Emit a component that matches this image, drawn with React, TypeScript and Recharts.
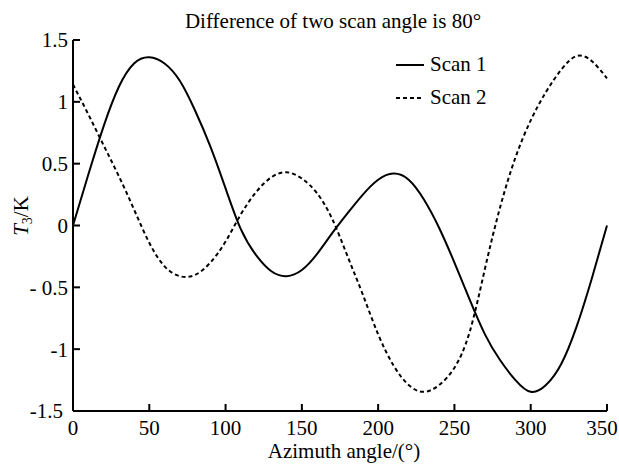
import { Legend, Line, LineChart, XAxis, YAxis } from "recharts";

// azimuth angle in degrees, T3 in K
const azimuth = [
  0, 10, 20, 30, 40, 50, 60, 70, 80, 90, 100, 110, 120, 130, 140, 150, 160, 170,
  180, 190, 200, 210, 220, 230, 240, 250, 260, 270, 280, 290, 300, 310, 320, 330,
  340, 350,
];
const scan1 = [
  0, 0.41, 0.8, 1.12, 1.31, 1.36, 1.31, 1.17, 0.93, 0.64, 0.3, -0.03, -0.24,
  -0.37, -0.41, -0.36, -0.23, -0.06, 0.1, 0.25, 0.37, 0.42, 0.37, 0.21, -0.02,
  -0.3, -0.6, -0.88, -1.09, -1.25, -1.345, -1.29, -1.12, -0.82, -0.43, 0,
];
const scan2 = [
  1.14, 0.9, 0.65, 0.4, 0.13, -0.14, -0.33, -0.41, -0.4, -0.3, -0.13, 0.09,
  0.27, 0.39, 0.43, 0.38, 0.26, 0.05, -0.25, -0.56, -0.88, -1.13, -1.29, -1.345,
  -1.29, -1.15, -0.86, -0.35, 0.15, 0.55, 0.85, 1.08, 1.26, 1.37, 1.33, 1.19,
];
const seriesNames = ["Scan 1", "Scan 2"];
const xTicks = [0, 50, 100, 150, 200, 250, 300, 350];
const yTicks = [-1.5, -1, -0.5, 0, 0.5, 1, 1.5];
const yTickLabels = ["-1.5", "-1", "- 0.5", "0", "0.5", "1", "1.5"];

const data = azimuth.map((a, i) => ({ azimuth: a, scan1: scan1[i], scan2: scan2[i] }));

const FONT = "Liberation Serif, Tinos, Times New Roman, Times, serif";
const FS = 21;
const textStyle = { fontFamily: FONT };

const XTick = (props: any) => {
  const { x, y, payload } = props;
  // last label is pulled in so it stays on the page
  const shift = payload.value === 350 ? -5 : 0;
  return (
    <text x={x + shift} y={y} dy="0.71em" textAnchor="middle" fill="#000" style={textStyle} fontSize={FS}>
      {payload.value}
    </text>
  );
};

const YTick = (props: any) => {
  const { x, y, payload } = props;
  const label = yTickLabels[yTicks.indexOf(payload.value)];
  // the bottom label sits a little to the left, clear of the x-axis "0"
  const shift = payload.value === -1.5 ? -5 : 0;
  return (
    <text x={x + shift} y={y} dy="0.355em" textAnchor="end" fill="#000" style={textStyle} fontSize={FS}>
      {label}
    </text>
  );
};

const LegendContent = () => (
  <div style={{ fontFamily: FONT, fontSize: FS, color: "#000" }}>
    {seriesNames.map((name, i) => (
      <div key={name} style={{ display: "flex", alignItems: "center", height: 33 }}>
        <svg width={28} height={4}>
          <line x1={0} y1={2} x2={28} y2={2} stroke="#000" strokeWidth={2} strokeDasharray={i ? "4 3" : undefined} />
        </svg>
        <span style={{ marginLeft: 6, lineHeight: "33px" }}>{name}</span>
      </div>
    ))}
  </div>
);

export default function App() {
  return (
    <div style={{ position: "absolute", left: 0, top: 0 }}>
      <LineChart width={619} height={469} data={data} margin={{ top: 40, right: 12, bottom: 18, left: 13 }}>
        <XAxis
          dataKey="azimuth"
          type="number"
          domain={[0, 350]}
          ticks={xTicks}
          interval={0}
          height={40}
          tickSize={-7}
          tickMargin={16}
          axisLine={{ stroke: "#000", strokeWidth: 2 }}
          tickLine={{ stroke: "#000", strokeWidth: 2 }}
          tick={XTick}
        />
        <YAxis
          type="number"
          domain={[-1.5, 1.5]}
          ticks={yTicks}
          interval={0}
          width={60}
          tickSize={-7}
          tickMargin={12}
          axisLine={{ stroke: "#000", strokeWidth: 2 }}
          tickLine={{ stroke: "#000", strokeWidth: 2 }}
          tick={YTick}
        />
        <Legend
          layout="horizontal"
          verticalAlign="middle"
          align="center"
          content={LegendContent}
          wrapperStyle={{ top: 48, left: 396, width: "auto" }}
        />
        <Line
          type="natural"
          dataKey="scan1"
          name={seriesNames[0]}
          stroke="#000"
          strokeWidth={2}
          dot={false}
          isAnimationActive={false}
        />
        <Line
          type="natural"
          dataKey="scan2"
          name={seriesNames[1]}
          stroke="#000"
          strokeWidth={2}
          strokeDasharray="4 3"
          dot={false}
          isAnimationActive={false}
        />
        <text x={333} y={28} textAnchor="middle" fill="#000" style={textStyle} fontSize={FS}>
          Difference of two scan angle is 80°
        </text>
        <text x={344} y={458} textAnchor="middle" fill="#000" style={textStyle} fontSize={FS}>
          Azimuth angle/(°)
        </text>
        <text x={28} y={216} transform="rotate(-90 28 216)" textAnchor="middle" fill="#000" style={textStyle} fontSize={FS}>
          <tspan fontStyle="italic">T</tspan>
          <tspan fontSize={14} dy={4}>3</tspan>
          <tspan dy={-4}>/K</tspan>
        </text>
      </LineChart>
    </div>
  );
}
